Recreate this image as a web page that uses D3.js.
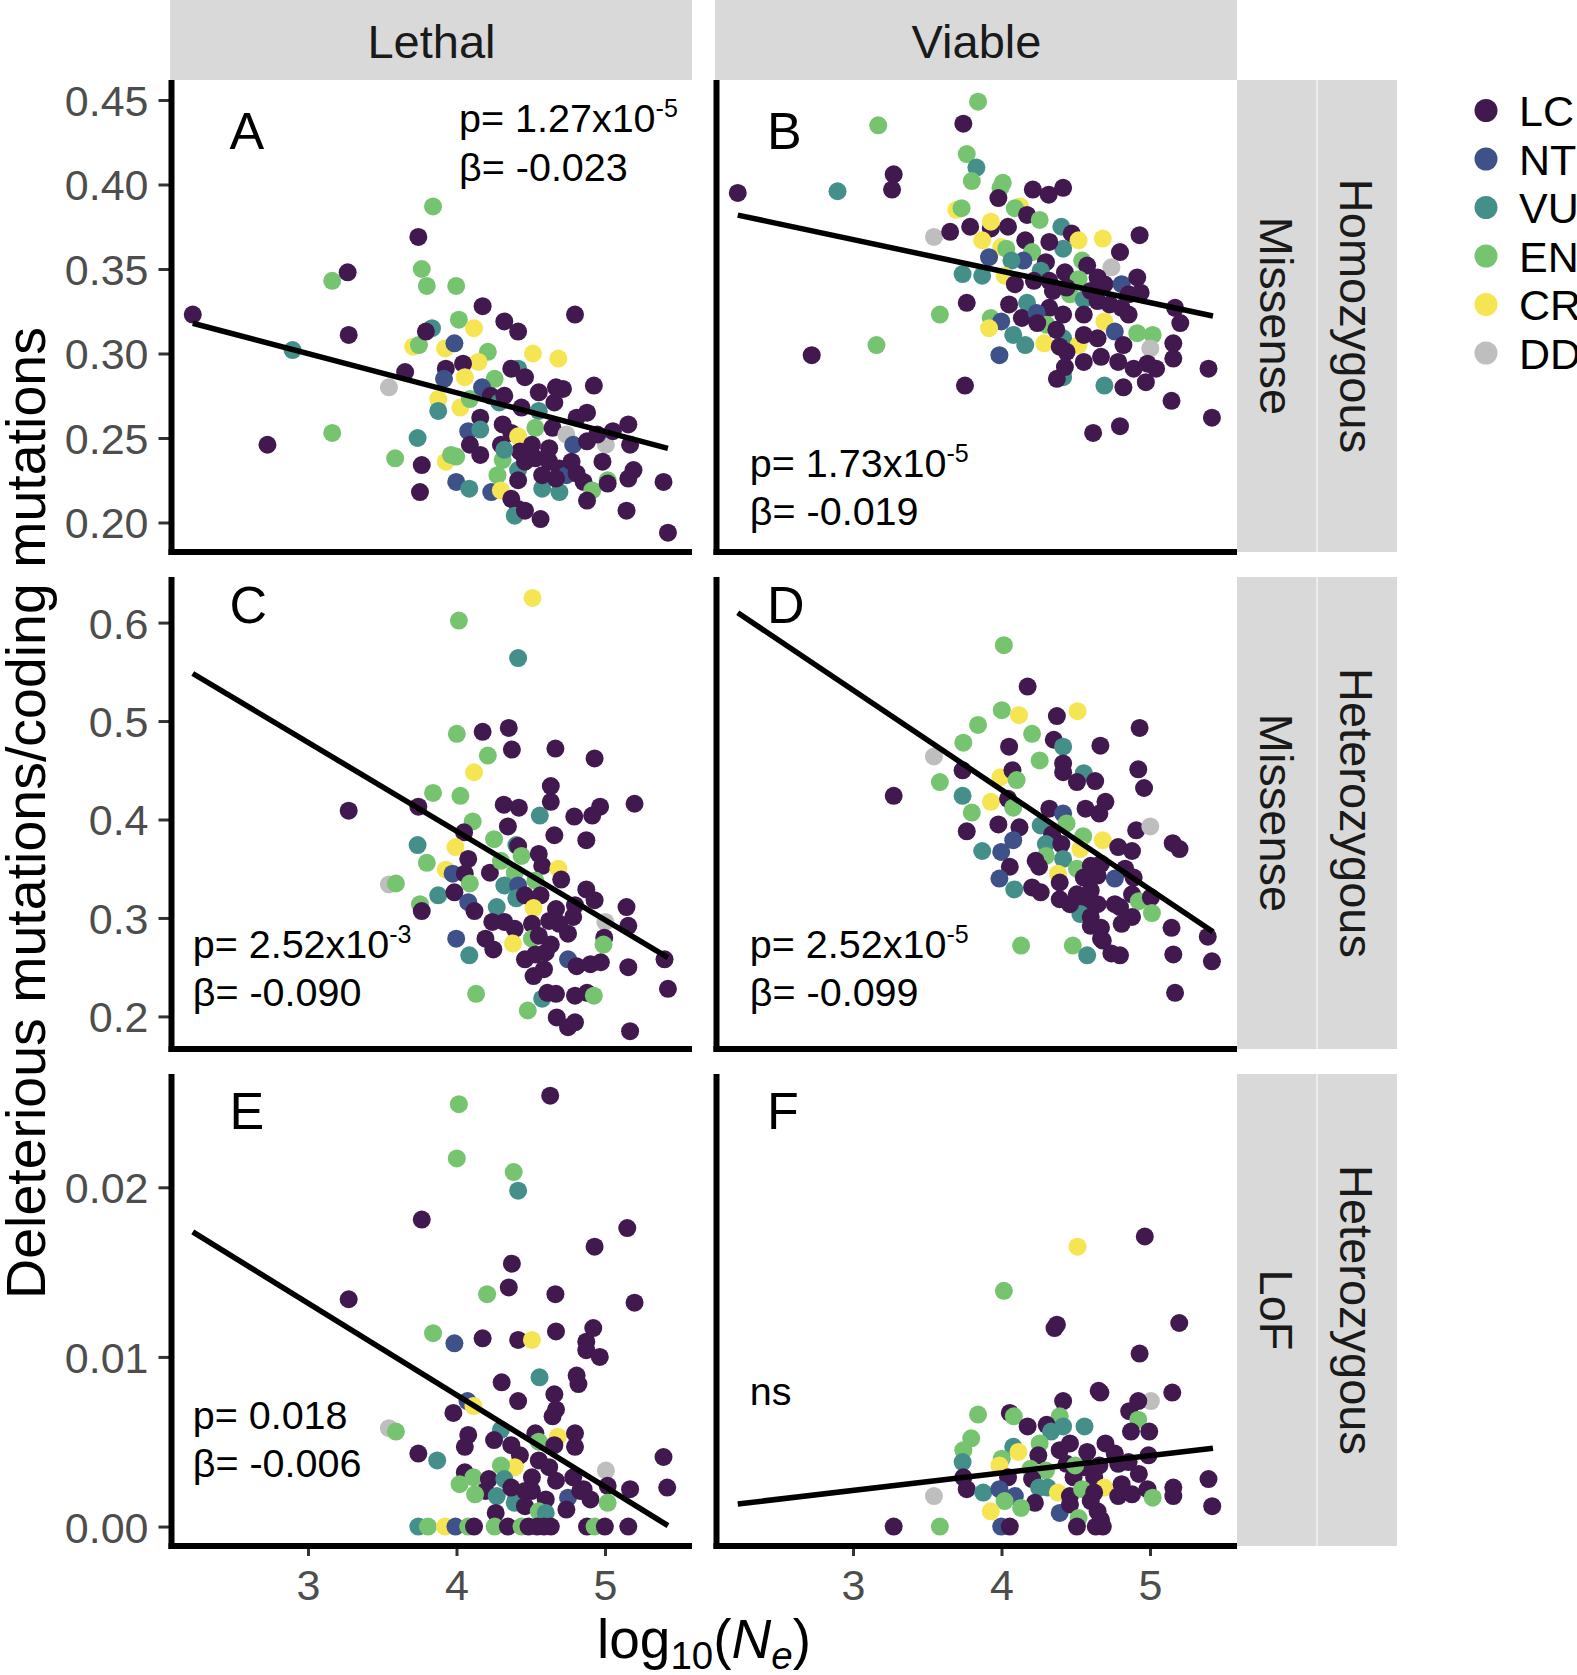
<!DOCTYPE html>
<html><head><meta charset="utf-8">
<script src="https://cdn.jsdelivr.net/npm/d3@7"></script>
<style>
body{margin:0;background:#fff}
text{font-family:"Liberation Sans",Arial,Helvetica,sans-serif}
</style>
</head><body>
<svg id="chart" width="1577" height="1675"></svg>
<script>
// ---------------- DATA ----------------
const categories = ["LC","NT","VU","EN","CR","DD"];
const categoryColors = ["#41194f","#3e5189","#458f8a","#77c470","#f6e552","#bebebe"];
const colLabels = ["Lethal","Viable"];
const rowLabels = [["Missense","Homozygous"],["Missense","Heterozygous"],["LoF","Heterozygous"]];
const xTicks = [3,4,5];
const xDomain = [2.0774, 5.5859];
const yTicks = [[0.20,0.25,0.30,0.35,0.40,0.45],[0.2,0.3,0.4,0.5,0.6],[0.00,0.01,0.02]];
const yTickFormats = [".2f",".1f",".2f"];
const yDomains = [[0.18254,0.46183],[0.1669,0.6463],[-0.001147,0.02668]];
const xTitle = ["log","10","(","N","e",")"];
const yTitle = "Deleterious mutations/coding mutations";

const pointsA = [[2.224,0.323,"LC"],[2.727,0.246,"LC"],[2.896,0.302,"VU"],[3.163,0.343,"EN"],[3.267,0.348,"LC"],[3.274,0.311,"LC"],[3.163,0.253,"EN"],[3.545,0.280,"DD"],[3.587,0.238,"EN"],[3.654,0.289,"LC"],
[3.743,0.369,"LC"],[3.842,0.387,"EN"],[3.766,0.350,"EN"],[3.800,0.340,"EN"],[3.998,0.340,"EN"],[3.708,0.304,"CR"],[3.747,0.305,"EN"],[3.835,0.315,"VU"],[3.794,0.313,"LC"],[3.738,0.250,"VU"],
[3.766,0.234,"LC"],[3.754,0.218,"LC"],[3.923,0.303,"CR"],[3.986,0.306,"NT"],[4.016,0.320,"EN"],[4.118,0.315,"CR"],[4.176,0.328,"LC"],[4.322,0.319,"LC"],[4.415,0.313,"LC"],[4.798,0.323,"LC"],
[4.515,0.300,"CR"],[4.686,0.297,"CR"],[4.211,0.301,"EN"],[4.148,0.295,"CR"],[3.928,0.291,"LC"],[4.044,0.294,"LC"],[3.916,0.285,"NT"],[4.056,0.286,"CR"],[4.257,0.285,"EN"],[4.415,0.291,"VU"],
[4.369,0.291,"LC"],[4.461,0.286,"LC"],[4.554,0.277,"LC"],[4.670,0.280,"LC"],[4.717,0.279,"LC"],[4.925,0.281,"LC"],[3.877,0.273,"CR"],[3.877,0.266,"VU"],[4.026,0.268,"CR"],[4.090,0.273,"EN"],
[4.172,0.280,"NT"],[4.230,0.275,"LC"],[4.288,0.271,"VU"],[4.322,0.275,"LC"],[4.659,0.271,"LC"],[4.438,0.268,"LC"],[4.554,0.266,"VU"],[4.160,0.262,"LC"],[4.079,0.254,"NT"],[4.160,0.255,"VU"],
[4.311,0.258,"LC"],[4.369,0.253,"LC"],[4.415,0.251,"CR"],[4.531,0.256,"EN"],[4.647,0.256,"LC"],[4.740,0.252,"DD"],[4.809,0.262,"LC"],[4.879,0.265,"LC"],[5.006,0.246,"DD"],[5.053,0.254,"LC"],
[5.157,0.258,"LC"],[5.169,0.246,"LC"],[4.090,0.246,"LC"],[4.160,0.240,"LC"],[4.299,0.246,"LC"],[4.427,0.242,"LC"],[4.508,0.246,"LC"],[4.624,0.244,"LC"],[4.786,0.246,"NT"],[4.879,0.248,"LC"],
[4.948,0.252,"LC"],[3.928,0.236,"CR"],[3.963,0.240,"EN"],[3.998,0.239,"EN"],[4.311,0.237,"EN"],[4.415,0.231,"VU"],[4.531,0.238,"LC"],[4.624,0.236,"LC"],[4.693,0.232,"LC"],[4.740,0.228,"NT"],
[4.809,0.229,"LC"],[4.983,0.236,"LC"],[5.192,0.231,"LC"],[5.157,0.226,"LC"],[5.394,0.224,"LC"],[4.276,0.228,"EN"],[3.998,0.224,"NT"],[4.086,0.220,"VU"],[4.234,0.218,"NT"],[4.299,0.219,"CR"],
[4.415,0.225,"LC"],[4.577,0.220,"VU"],[4.693,0.218,"VU"],[4.856,0.224,"LC"],[4.914,0.219,"EN"],[5.018,0.225,"EN"],[5.018,0.223,"LC"],[4.369,0.214,"LC"],[4.415,0.208,"LC"],[4.392,0.204,"VU"],
[4.461,0.207,"LC"],[4.566,0.202,"LC"],[4.879,0.213,"LC"],[5.145,0.207,"LC"],[5.424,0.194,"LC"],[4.577,0.228,"LC"],[4.670,0.226,"LC"],[4.322,0.243,"VU"],[4.461,0.236,"LC"],[4.775,0.236,"LC"]];

const pointsB = [[2.224,0.395,"LC"],[2.896,0.396,"VU"],[3.170,0.435,"EN"],[3.274,0.406,"LC"],[3.263,0.397,"LC"],[3.842,0.449,"EN"],[3.743,0.436,"LC"],[3.766,0.418,"EN"],[3.831,0.410,"VU"],[3.800,0.402,"EN"],
[4.009,0.401,"EN"],[3.993,0.398,"EN"],[3.979,0.392,"LC"],[4.211,0.397,"LC"],[4.318,0.394,"LC"],[4.415,0.398,"LC"],[3.696,0.385,"CR"],[3.731,0.386,"EN"],[4.125,0.387,"CR"],[4.090,0.386,"EN"],
[4.172,0.382,"LC"],[4.257,0.379,"EN"],[3.789,0.375,"LC"],[3.928,0.374,"LC"],[3.928,0.378,"CR"],[4.044,0.375,"LC"],[3.545,0.369,"DD"],[3.654,0.372,"LC"],[3.870,0.367,"CR"],[3.998,0.363,"CR"],
[4.032,0.362,"EN"],[4.160,0.367,"LC"],[4.206,0.360,"EN"],[4.403,0.375,"VU"],[4.473,0.371,"LC"],[4.519,0.367,"CR"],[4.682,0.368,"CR"],[4.930,0.370,"LC"],[4.798,0.360,"LC"],[3.916,0.357,"NT"],
[4.148,0.355,"NT"],[4.067,0.355,"VU"],[4.415,0.362,"VU"],[4.543,0.355,"EN"],[4.322,0.366,"LC"],[4.299,0.354,"LC"],[4.577,0.352,"LC"],[4.740,0.351,"DD"],[3.738,0.347,"VU"],[3.870,0.346,"VU"],
[4.021,0.346,"CR"],[4.264,0.349,"VU"],[4.427,0.348,"LC"],[4.519,0.344,"EN"],[4.090,0.341,"LC"],[4.647,0.345,"LC"],[4.693,0.341,"LC"],[4.809,0.341,"NT"],[4.914,0.345,"LC"],[4.937,0.336,"LC"],
[4.346,0.337,"LC"],[4.461,0.335,"EN"],[4.554,0.332,"VU"],[3.766,0.330,"LC"],[4.051,0.329,"LC"],[4.172,0.330,"VU"],[4.322,0.327,"LC"],[4.647,0.331,"LC"],[4.809,0.327,"LC"],[5.169,0.327,"LC"],
[3.585,0.323,"EN"],[3.928,0.321,"EN"],[3.998,0.319,"NT"],[3.916,0.315,"CR"],[4.137,0.321,"LC"],[4.237,0.324,"NT"],[4.304,0.317,"EN"],[4.415,0.323,"LC"],[4.554,0.323,"LC"],[4.693,0.319,"CR"],
[4.856,0.323,"LC"],[5.204,0.318,"LC"],[4.914,0.312,"EN"],[5.018,0.311,"EN"],[4.079,0.311,"VU"],[4.160,0.305,"VU"],[4.288,0.306,"CR"],[4.415,0.309,"VU"],[4.392,0.304,"LC"],[4.519,0.305,"CR"],
[4.647,0.309,"LC"],[4.763,0.313,"NT"],[4.821,0.305,"LC"],[5.002,0.303,"DD"],[5.157,0.306,"LC"],[3.986,0.299,"NT"],[4.438,0.301,"LC"],[4.554,0.295,"LC"],[4.670,0.298,"LC"],[4.786,0.295,"LC"],
[4.890,0.291,"LC"],[4.983,0.294,"LC"],[5.041,0.291,"LC"],[5.157,0.297,"LC"],[3.158,0.305,"EN"],[2.722,0.299,"LC"],[3.754,0.281,"LC"],[4.415,0.286,"VU"],[4.373,0.285,"LC"],[4.427,0.292,"LC"],
[4.693,0.281,"VU"],[4.821,0.280,"LC"],[4.972,0.283,"LC"],[5.394,0.291,"LC"],[5.145,0.272,"LC"],[5.417,0.262,"LC"],[4.617,0.253,"LC"],[4.798,0.257,"LC"],[4.369,0.314,"LC"],[4.601,0.337,"LC"],
[4.856,0.335,"LC"],[4.554,0.311,"LC"],[4.241,0.318,"LC"],[4.218,0.343,"LC"],[4.322,0.343,"LC"],[4.438,0.339,"LC"],[4.728,0.329,"LC"]];

const pointsC = [[4.512,0.625,"CR"],[4.016,0.602,"EN"],[4.415,0.564,"VU"],[4.002,0.487,"EN"],[4.176,0.489,"LC"],[4.352,0.493,"LC"],[4.373,0.471,"LC"],[4.666,0.472,"LC"],[4.930,0.462,"LC"],[4.211,0.465,"EN"],
[4.118,0.448,"CR"],[3.274,0.409,"LC"],[3.842,0.427,"EN"],[4.026,0.424,"EN"],[3.743,0.413,"LC"],[4.318,0.415,"LC"],[4.420,0.412,"LC"],[4.635,0.434,"LC"],[4.635,0.418,"LC"],[4.561,0.404,"VU"],
[4.793,0.403,"LC"],[4.914,0.404,"LC"],[4.967,0.413,"LC"],[5.199,0.416,"LC"],[4.109,0.398,"EN"],[4.051,0.387,"LC"],[4.346,0.393,"LC"],[4.659,0.384,"LC"],[4.874,0.379,"LC"],[3.738,0.374,"VU"],
[3.993,0.372,"CR"],[4.253,0.380,"EN"],[4.403,0.374,"VU"],[4.415,0.373,"LC"],[3.800,0.356,"EN"],[3.928,0.349,"CR"],[3.974,0.345,"NT"],[4.079,0.360,"LC"],[4.056,0.345,"LC"],[4.225,0.346,"LC"],
[4.299,0.358,"EN"],[4.438,0.363,"EN"],[4.554,0.365,"LC"],[4.577,0.353,"LC"],[4.686,0.350,"CR"],[4.705,0.339,"LC"],[4.392,0.346,"EN"],[4.531,0.338,"EN"],[3.545,0.334,"DD"],[3.592,0.335,"EN"],
[4.090,0.335,"EN"],[4.322,0.333,"VU"],[4.415,0.333,"NT"],[3.877,0.323,"VU"],[3.986,0.326,"LC"],[4.079,0.316,"NT"],[4.403,0.320,"VU"],[4.461,0.323,"LC"],[4.566,0.323,"LC"],[4.874,0.329,"LC"],
[4.930,0.318,"LC"],[3.754,0.314,"EN"],[3.766,0.307,"LC"],[4.121,0.307,"LC"],[4.271,0.311,"VU"],[4.519,0.310,"CR"],[4.670,0.309,"LC"],[4.798,0.313,"LC"],[5.145,0.311,"LC"],[5.002,0.296,"DD"],
[5.157,0.292,"LC"],[4.322,0.296,"LC"],[4.392,0.289,"LC"],[4.508,0.294,"LC"],[4.624,0.297,"LC"],[4.693,0.294,"LC"],[4.751,0.284,"LC"],[3.998,0.279,"NT"],[4.195,0.279,"LC"],[4.248,0.268,"LC"],
[4.380,0.274,"CR"],[4.508,0.279,"EN"],[4.554,0.282,"LC"],[4.995,0.280,"LC"],[4.990,0.273,"EN"],[4.086,0.262,"VU"],[4.461,0.258,"LC"],[4.531,0.263,"LC"],[4.601,0.265,"LC"],[4.751,0.258,"NT"],
[4.809,0.251,"LC"],[4.902,0.253,"LC"],[4.972,0.255,"LC"],[5.157,0.250,"LC"],[5.401,0.258,"LC"],[5.424,0.228,"LC"],[4.132,0.223,"EN"],[4.519,0.241,"LC"],[4.589,0.248,"LC"],[4.577,0.218,"VU"],
[4.612,0.224,"LC"],[4.670,0.223,"LC"],[4.798,0.221,"LC"],[4.879,0.224,"LC"],[4.925,0.221,"EN"],[4.480,0.206,"EN"],[4.675,0.199,"LC"],[4.751,0.189,"LC"],[4.798,0.194,"LC"],[5.169,0.185,"LC"],
[4.241,0.296,"LC"],[4.635,0.273,"LC"],[4.786,0.301,"LC"]];

const pointsD = [[4.016,0.577,"EN"],[4.176,0.535,"LC"],[3.274,0.424,"LC"],[3.545,0.464,"DD"],[4.002,0.511,"EN"],[4.118,0.506,"CR"],[4.512,0.510,"CR"],[4.373,0.505,"LC"],[3.842,0.496,"EN"],[4.206,0.487,"EN"],
[4.352,0.481,"LC"],[4.930,0.493,"LC"],[3.743,0.478,"EN"],[4.051,0.474,"LC"],[4.415,0.474,"VU"],[4.666,0.475,"LC"],[4.257,0.460,"EN"],[4.415,0.457,"LC"],[4.921,0.451,"LC"],[4.415,0.448,"LC"],
[4.554,0.447,"VU"],[4.508,0.438,"LC"],[4.631,0.439,"LC"],[4.960,0.432,"LC"],[3.585,0.438,"EN"],[3.738,0.450,"LC"],[3.993,0.443,"CR"],[4.074,0.450,"LC"],[4.102,0.440,"EN"],[3.738,0.424,"VU"],
[3.928,0.418,"CR"],[4.044,0.421,"LC"],[4.079,0.412,"EN"],[4.322,0.411,"LC"],[4.415,0.406,"NT"],[4.566,0.411,"LC"],[4.700,0.418,"LC"],[4.659,0.406,"LC"],[3.800,0.407,"EN"],[3.979,0.395,"LC"],
[4.121,0.392,"LC"],[4.264,0.394,"VU"],[4.438,0.396,"EN"],[4.341,0.385,"LC"],[4.550,0.383,"EN"],[4.682,0.379,"CR"],[4.907,0.389,"LC"],[5.002,0.393,"DD"],[3.766,0.388,"LC"],[4.079,0.379,"NT"],
[3.870,0.368,"VU"],[3.998,0.367,"NT"],[4.299,0.375,"VU"],[4.403,0.375,"LC"],[4.531,0.370,"CR"],[4.786,0.372,"LC"],[4.879,0.368,"LC"],[5.153,0.376,"LC"],[5.199,0.370,"LC"],[4.299,0.363,"EN"],
[4.415,0.360,"VU"],[4.230,0.358,"LC"],[4.056,0.352,"LC"],[4.253,0.352,"LC"],[4.508,0.350,"EN"],[4.601,0.353,"LC"],[4.670,0.355,"LC"],[4.833,0.350,"LC"],[4.763,0.340,"NT"],[4.890,0.341,"LC"],
[4.380,0.345,"CR"],[4.554,0.341,"LC"],[4.647,0.343,"LC"],[3.986,0.340,"NT"],[4.086,0.329,"VU"],[4.206,0.331,"LC"],[4.264,0.326,"LC"],[4.392,0.336,"LC"],[4.392,0.319,"LC"],[4.508,0.324,"LC"],
[4.601,0.328,"LC"],[4.879,0.324,"LC"],[4.925,0.317,"EN"],[5.006,0.321,"LC"],[4.554,0.314,"LC"],[4.647,0.314,"LC"],[4.798,0.311,"LC"],[4.531,0.304,"VU"],[4.601,0.301,"LC"],[4.879,0.301,"LC"],
[5.013,0.305,"EN"],[4.809,0.294,"LC"],[4.601,0.292,"LC"],[4.670,0.290,"LC"],[5.145,0.290,"LC"],[5.389,0.281,"LC"],[4.670,0.279,"LC"],[4.682,0.277,"LC"],[4.132,0.272,"EN"],[4.480,0.272,"EN"],
[4.577,0.262,"VU"],[4.740,0.264,"LC"],[4.798,0.262,"LC"],[5.157,0.263,"LC"],[5.417,0.256,"LC"],[5.169,0.224,"LC"],[4.763,0.314,"LC"],[4.461,0.314,"LC"]];

const pointsE = [[4.631,0.0254,"LC"],[4.016,0.0249,"EN"],[4.002,0.0217,"EN"],[4.385,0.0209,"EN"],[4.415,0.0198,"VU"],[3.766,0.0181,"LC"],[5.150,0.0176,"LC"],[4.930,0.0165,"LC"],[4.373,0.0155,"LC"],[4.352,0.0141,"LC"],
[4.206,0.0137,"EN"],[4.666,0.0137,"LC"],[3.274,0.0134,"LC"],[5.199,0.0132,"LC"],[3.842,0.0114,"EN"],[3.986,0.0108,"NT"],[4.176,0.0111,"LC"],[4.415,0.0110,"LC"],[4.508,0.0110,"CR"],[4.670,0.0115,"LC"],
[4.921,0.0117,"LC"],[4.874,0.0109,"LC"],[4.874,0.0104,"LC"],[4.965,0.0100,"LC"],[4.559,0.0088,"VU"],[4.304,0.0085,"LC"],[4.809,0.0089,"LC"],[4.821,0.0084,"LC"],[4.659,0.0078,"LC"],[4.415,0.0074,"LC"],
[4.074,0.0074,"NT"],[4.114,0.0071,"CR"],[3.979,0.0067,"LC"],[4.670,0.0069,"LC"],[4.647,0.0065,"LC"],[3.545,0.0058,"DD"],[3.592,0.0056,"EN"],[4.299,0.0057,"VU"],[4.079,0.0054,"LC"],[4.056,0.0047,"LC"],
[4.253,0.0051,"LC"],[4.531,0.0055,"LC"],[4.554,0.0050,"EN"],[4.682,0.0053,"CR"],[4.659,0.0048,"LC"],[4.798,0.0055,"LC"],[4.798,0.0047,"LC"],[4.369,0.0048,"LC"],[4.427,0.0042,"LC"],[3.743,0.0043,"LC"],
[3.870,0.0039,"VU"],[5.394,0.0041,"LC"],[4.392,0.0035,"CR"],[4.299,0.0036,"EN"],[4.554,0.0039,"LC"],[4.624,0.0035,"LC"],[4.056,0.0032,"LC"],[4.114,0.0029,"EN"],[4.021,0.0025,"EN"],[4.218,0.0028,"LC"],
[4.322,0.0028,"VU"],[4.508,0.0029,"LC"],[4.670,0.0027,"LC"],[4.786,0.0029,"LC"],[5.006,0.0033,"DD"],[5.018,0.0024,"LC"],[4.856,0.0022,"LC"],[4.195,0.0021,"LC"],[4.125,0.0019,"EN"],[4.271,0.0018,"VU"],
[4.403,0.0017,"NT"],[4.508,0.0021,"LC"],[4.601,0.0016,"LC"],[4.751,0.0017,"NT"],[4.902,0.0016,"LC"],[5.018,0.0014,"EN"],[5.169,0.0022,"LC"],[5.419,0.0023,"LC"],[4.392,0.0014,"VU"],[4.461,0.0012,"LC"],
[4.554,0.0009,"EN"],[4.601,0.0008,"VU"],[4.740,0.0010,"LC"],[4.264,0.0008,"LC"],[3.743,0,"VU"],[3.808,0,"EN"],[3.923,0,"CR"],[3.993,0,"NT"],[4.079,0,"EN"],[4.118,0,"LC"],
[4.257,0,"EN"],[4.346,0,"LC"],[4.438,0,"EN"],[4.485,0,"LC"],[4.543,0,"LC"],[4.589,0,"LC"],[4.635,0,"LC"],[4.879,0,"LC"],[4.930,0,"EN"],[4.999,0,"LC"],
[5.157,0,"LC"],[4.461,0.0021,"LC"],[4.369,0.0023,"LC"],[4.833,0.0021,"LC"]];

const pointsF = [[4.512,0.0165,"CR"],[4.965,0.0171,"LC"],[4.016,0.0139,"EN"],[4.357,0.0117,"LC"],[4.373,0.0119,"LC"],[5.197,0.0120,"LC"],[4.930,0.0102,"LC"],[4.666,0.0079,"LC"],[4.654,0.0080,"LC"],[5.150,0.0079,"LC"],
[5.006,0.0074,"DD"],[4.415,0.0074,"LC"],[4.921,0.0074,"LC"],[4.860,0.0068,"LC"],[3.842,0.0066,"EN"],[4.056,0.0067,"LC"],[4.083,0.0065,"EN"],[4.392,0.0065,"EN"],[4.415,0.0059,"VU"],[4.559,0.0059,"VU"],
[4.176,0.0059,"LC"],[4.304,0.0060,"LC"],[4.334,0.0056,"VU"],[4.921,0.0063,"EN"],[4.872,0.0056,"LC"],[4.995,0.0056,"LC"],[3.796,0.0052,"EN"],[4.257,0.0049,"EN"],[4.079,0.0047,"VU"],[4.114,0.0044,"CR"],
[3.743,0.0045,"EN"],[3.738,0.0038,"VU"],[4.002,0.0040,"EN"],[4.248,0.0042,"LC"],[4.392,0.0045,"LC"],[4.461,0.0049,"LC"],[4.700,0.0049,"LC"],[4.577,0.0044,"LC"],[4.763,0.0043,"LC"],[4.990,0.0042,"LC"],
[4.438,0.0037,"LC"],[4.554,0.0035,"LC"],[4.659,0.0036,"LC"],[4.786,0.0037,"LC"],[4.856,0.0038,"LC"],[3.986,0.0036,"CR"],[4.195,0.0034,"EN"],[4.299,0.0033,"EN"],[4.044,0.0029,"LC"],[4.206,0.0028,"LC"],
[3.743,0.0029,"LC"],[4.485,0.0029,"LC"],[4.624,0.0029,"LC"],[4.693,0.0023,"CR"],[4.809,0.0025,"LC"],[4.925,0.0031,"LC"],[4.983,0.0022,"LC"],[5.394,0.0028,"LC"],[3.766,0.0022,"LC"],[3.545,0.0018,"DD"],
[3.877,0.0020,"VU"],[3.986,0.0022,"NT"],[4.090,0.0018,"NT"],[4.021,0.0015,"EN"],[4.253,0.0023,"VU"],[4.311,0.0023,"VU"],[4.380,0.0020,"CR"],[4.461,0.0018,"LC"],[4.543,0.0022,"EN"],[4.624,0.0020,"LC"],
[4.786,0.0018,"LC"],[4.879,0.0019,"LC"],[5.018,0.0017,"EN"],[5.157,0.0023,"LC"],[5.157,0.0018,"LC"],[5.419,0.0012,"LC"],[4.225,0.0014,"LC"],[4.132,0.0011,"EN"],[3.928,0.0009,"CR"],[4.392,0.0008,"NT"],
[4.461,0.0013,"LC"],[4.519,0.0005,"EN"],[4.601,0.0015,"LC"],[4.647,0.0009,"LC"],[4.670,0.0004,"LC"],[3.274,0,"LC"],[3.585,0,"EN"],[3.998,0,"NT"],[4.056,0,"LC"],[4.508,0,"LC"],
[4.635,0,"LC"],[4.682,0,"LC"],[4.496,0.0036,"EN"]];

// regression fits: x range and fitted y at each end, per panel
const fitX = [2.224, 5.424];
const fitY = [[0.3179,0.2439],[0.3819,0.3222],[0.5483,0.2598],[0.6100,0.2860],[0.01737,0.00005],[0.00133,0.00462]];

// panel letters and annotations (data coordinates)
const panelLetters = ["A","B","C","D","E","F"];
const letterX = [2.4713,2.4208,2.4713,2.4208,2.4713,2.4208];
const letterY = [0.421,0.421,0.5992,0.5992,0.02344,0.02344];
const noteX = [4.017,2.305,2.2235,2.305,2.2235,2.305];
const noteY1 = [0.4311,0.2271,0.2598,0.2598,0.00574,0.00715];
const noteY2 = [0.4021,0.1985,0.2107,0.2107,0.00292,null];
const pText = [["p= 1.27x10","-5"],["p= 1.73x10","-5"],["p= 2.52x10","-3"],["p= 2.52x10","-5"],["p= 0.018",""],["ns",""]];
const betaText = ["β= -0.023","β= -0.019","β= -0.090","β= -0.099","β= -0.006",""];

// ---------------- LAYOUT ----------------
const colX0 = [171, 716], panelW = 521;
const rowY0 = [80, 577, 1074], panelH = 472;
const svg = d3.select("#chart");
const color = d3.scaleOrdinal().domain(categories).range(categoryColors);
const allPoints = [pointsA,pointsB,pointsC,pointsD,pointsE,pointsF];

// top strips
colLabels.forEach((lab,c)=>{
  svg.append("rect").attr("x",colX0[c]-1).attr("y",0).attr("width",panelW+1).attr("height",80).attr("fill","#d9d9d9");
  svg.append("text").attr("x",colX0[c]+panelW/2).attr("y",57.5).attr("text-anchor","middle")
    .attr("font-size",47).attr("fill","#1a1a1a").text(lab);
});
// right strips
rowLabels.forEach((labs,r)=>{
  labs.forEach((lab,k)=>{
    const sx = colX0[1]+panelW + k*80;
    svg.append("rect").attr("x",sx+(k?0.5:0)).attr("y",rowY0[r]).attr("width",79.5).attr("height",panelH).attr("fill","#d9d9d9");
    const cx = sx+40, cy = rowY0[r]+panelH/2;
    svg.append("text").attr("transform",`translate(${cx-16.8},${cy}) rotate(90)`).attr("text-anchor","middle")
      .attr("font-size",47).attr("fill","#1a1a1a").text(lab);
  });
});

for(let i=0;i<6;i++){
  const r = Math.floor(i/2), c = i%2;
  const x = d3.scaleLinear().domain(xDomain).range([colX0[c], colX0[c]+panelW]);
  const y = d3.scaleLinear().domain(yDomains[r]).range([rowY0[r]+panelH, rowY0[r]]);
  const g = svg.append("g");
  g.selectAll("circle").data(allPoints[i]).join("circle")
    .attr("cx",d=>x(d[0])).attr("cy",d=>y(d[1])).attr("r",9).attr("fill",d=>color(d[2]));
  g.append("line").attr("x1",x(fitX[0])).attr("y1",y(fitY[i][0])).attr("x2",x(fitX[1])).attr("y2",y(fitY[i][1]))
    .attr("stroke","#000").attr("stroke-width",5.5);
  // panel letter
  g.append("text").attr("x",x(letterX[i])).attr("y",y(letterY[i])).attr("font-size",52).attr("fill","#000").text(panelLetters[i]);
  // annotations
  const t1 = g.append("text").attr("x",x(noteX[i])).attr("y",y(noteY1[i])).attr("font-size",39.5).attr("fill","#000");
  t1.append("tspan").text(pText[i][0]);
  if(pText[i][1]) t1.append("tspan").attr("font-size",25).attr("dy",-14.5).text(pText[i][1]);
  if(noteY2[i]!==null) g.append("text").attr("x",x(noteX[i])).attr("y",y(noteY2[i])).attr("font-size",39.5).attr("fill","#000").text(betaText[i]);

  // y axis
  const ya = d3.axisLeft(y).tickValues(c===0?yTicks[r]:[]).tickFormat(d3.format(yTickFormats[r])).tickSize(13).tickPadding(10).tickSizeOuter(0);
  const yg = svg.append("g").attr("transform",`translate(${colX0[c]+0.5},0)`).call(ya);
  yg.select(".domain").remove();
  yg.selectAll(".tick line").attr("stroke","#333").attr("stroke-width",3);
  yg.selectAll(".tick text").attr("font-size",43).attr("fill","#4d4d4d").attr("font-family","Liberation Sans, Arial, sans-serif").attr("dy","0.36em");
  // x axis
  const xa = d3.axisBottom(x).tickValues(r===2?xTicks:[]).tickFormat(d3.format("d")).tickSize(10).tickPadding(13.5).tickSizeOuter(0);
  const xg = svg.append("g").attr("transform",`translate(0,${rowY0[r]+panelH})`).call(xa);
  xg.select(".domain").remove();
  xg.selectAll(".tick line").attr("stroke","#333").attr("stroke-width",3);
  xg.selectAll(".tick text").attr("font-size",43).attr("fill","#4d4d4d").attr("font-family","Liberation Sans, Arial, sans-serif");
  // axis lines
  svg.append("line").attr("x1",colX0[c]+0.5).attr("x2",colX0[c]+0.5).attr("y1",rowY0[r]).attr("y2",rowY0[r]+panelH+3)
    .attr("stroke","#000").attr("stroke-width",6);
  svg.append("line").attr("x1",colX0[c]-2.5).attr("x2",colX0[c]+panelW).attr("y1",rowY0[r]+panelH).attr("y2",rowY0[r]+panelH)
    .attr("stroke","#000").attr("stroke-width",6);
}

// axis titles
svg.append("text").attr("transform","translate(45,813) rotate(-90)").attr("text-anchor","middle")
  .attr("font-size",55.5).attr("fill","#000").text(yTitle);
const xt = svg.append("text").attr("x",(colX0[0]+colX0[1]+panelW)/2).attr("y",1658).attr("text-anchor","middle").attr("font-size",55).attr("fill","#000");
xt.append("tspan").text(xTitle[0]);
xt.append("tspan").attr("font-size",38.5).attr("dy",11).text(xTitle[1]);
xt.append("tspan").attr("dy",-11).text(xTitle[2]);
xt.append("tspan").attr("font-style","italic").text(xTitle[3]);
xt.append("tspan").attr("font-style","italic").attr("font-size",38.5).attr("dy",11).text(xTitle[4]);
xt.append("tspan").attr("dy",-11).text(xTitle[5]);

// legend
const lg = svg.append("g");
categories.forEach((cat,k)=>{
  const cy = 110.5 + k*48.5;
  lg.append("circle").attr("cx",1486).attr("cy",cy).attr("r",11.5).attr("fill",color(cat));
  lg.append("text").attr("x",1519).attr("y",cy+15.5).attr("font-size",43).attr("fill","#000").text(cat);
});
</script>
</body></html>
